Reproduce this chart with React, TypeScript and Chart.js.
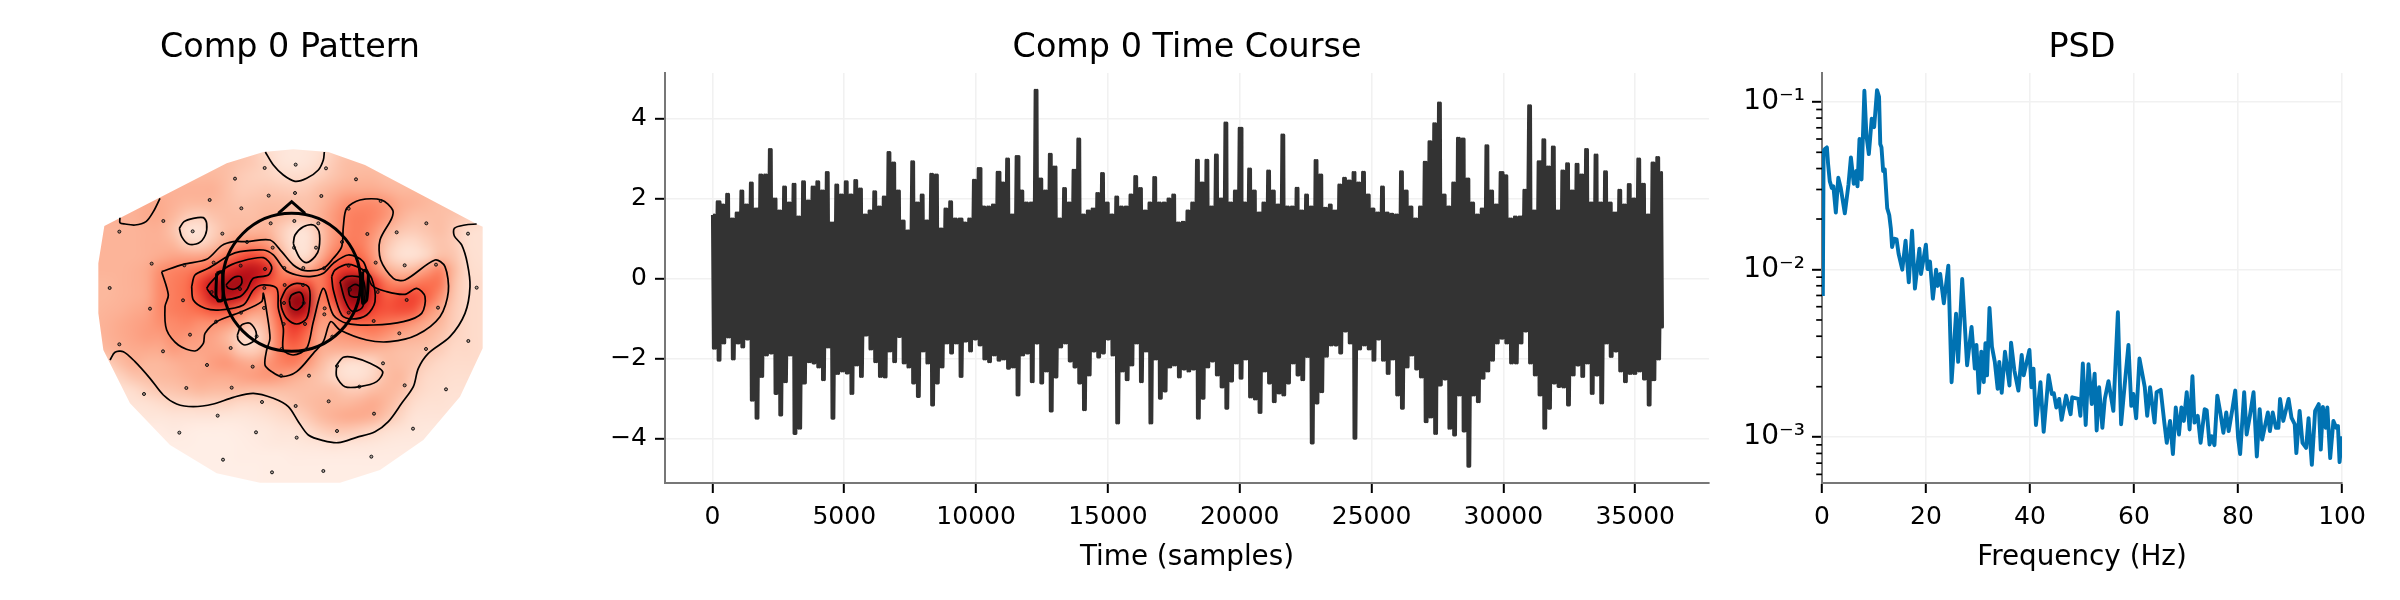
import React, { useEffect, useRef } from "react";
import { Chart, registerables } from "chart.js";

Chart.register(...registerables);

// ---- topomap data (map units) ----
const heatX = [100, 140, 180, 220, 260, 300, 340, 380, 420, 460, 500, 540, 580, 620, 660, 700, 740, 780, 820, 860, 900, 940, 980, 1020, 1060, 1100, 1140, 1180, 1220, 1260];
const heatY = [90, 130, 170, 210, 250, 290, 330, 370, 410, 450, 490, 530, 570, 610, 650, 690, 730, 770, 810, 850, 890, 930, 970, 1010, 1050, 1090];
const heatValues = [
  [22, 22, 22, 22, 22, 22, 22, 22, 22, 22, 22, 22, 20, 14, 10, 8, 9, 12, 18, 22, 22, 22, 22, 22, 22, 22, 22, 22, 22, 22],
  [24, 24, 24, 24, 24, 24, 24, 24, 24, 24, 24, 22, 20, 16, 11, 9, 10, 14, 20, 24, 24, 24, 24, 24, 24, 24, 24, 24, 24, 24],
  [26, 26, 26, 26, 26, 26, 26, 26, 26, 26, 24, 20, 18, 17, 15, 14, 15, 18, 22, 25, 26, 26, 24, 24, 24, 24, 24, 24, 24, 24],
  [28, 28, 28, 28, 28, 28, 28, 28, 28, 28, 24, 20, 20, 21, 20, 19, 20, 24, 27, 30, 30, 30, 28, 26, 26, 26, 26, 24, 24, 24],
  [28, 28, 28, 28, 30, 30, 28, 26, 26, 26, 24, 22, 23, 24, 24, 23, 23, 26, 32, 38, 40, 40, 36, 30, 28, 26, 24, 24, 22, 22],
  [28, 28, 28, 28, 30, 30, 26, 20, 18, 22, 24, 24, 24, 26, 25, 22, 22, 28, 35, 42, 44, 42, 36, 28, 24, 24, 24, 22, 20, 18],
  [27, 27, 27, 27, 28, 28, 22, 12, 11, 18, 24, 26, 26, 27, 20, 13, 12, 22, 34, 42, 44, 38, 28, 22, 20, 22, 24, 20, 14, 12],
  [27, 27, 27, 27, 28, 28, 26, 18, 16, 22, 30, 36, 38, 35, 22, 12, 11, 22, 36, 44, 44, 34, 22, 15, 14, 18, 22, 20, 13, 12],
  [27, 27, 27, 27, 28, 30, 32, 32, 32, 36, 46, 56, 60, 52, 32, 16, 14, 28, 44, 52, 50, 36, 20, 13, 12, 16, 24, 22, 14, 12],
  [27, 27, 27, 28, 30, 38, 42, 44, 48, 56, 68, 76, 80, 70, 44, 32, 30, 42, 58, 66, 62, 44, 30, 24, 26, 34, 42, 26, 15, 13],
  [26, 26, 27, 28, 30, 40, 44, 48, 62, 78, 86, 88, 76, 58, 50, 56, 58, 44, 62, 92, 96, 66, 46, 40, 44, 48, 46, 24, 15, 14],
  [26, 26, 27, 28, 30, 40, 44, 48, 58, 76, 82, 74, 58, 40, 58, 90, 84, 44, 60, 88, 92, 68, 54, 58, 60, 52, 38, 22, 15, 14],
  [26, 27, 28, 30, 32, 40, 44, 46, 50, 56, 56, 46, 36, 34, 56, 88, 78, 40, 44, 72, 74, 60, 56, 58, 56, 40, 30, 20, 15, 14],
  [27, 28, 30, 32, 34, 38, 40, 42, 38, 38, 36, 30, 22, 28, 50, 66, 58, 34, 36, 48, 50, 50, 46, 42, 36, 30, 26, 19, 15, 14],
  [26, 28, 30, 32, 34, 34, 38, 36, 34, 32, 26, 16, 13, 24, 46, 58, 48, 30, 34, 36, 38, 40, 36, 30, 28, 26, 22, 17, 15, 14],
  [22, 26, 28, 30, 30, 30, 34, 32, 32, 32, 30, 20, 18, 26, 44, 50, 44, 30, 28, 28, 28, 27, 26, 24, 23, 22, 19, 15, 15, 14],
  [14, 18, 24, 28, 26, 26, 28, 30, 30, 34, 36, 32, 30, 36, 42, 44, 36, 26, 18, 13, 13, 16, 24, 24, 22, 18, 15, 14, 14, 14],
  [12, 13, 17, 22, 24, 25, 26, 28, 30, 30, 30, 32, 34, 36, 34, 30, 26, 22, 16, 12, 12, 16, 24, 26, 20, 15, 14, 13, 13, 13],
  [10, 11, 12, 14, 18, 21, 22, 24, 26, 25, 25, 25, 24, 24, 24, 24, 24, 24, 24, 20, 20, 24, 26, 24, 17, 14, 13, 12, 12, 12],
  [8, 9, 10, 11, 12, 14, 16, 16, 17, 17, 17, 15, 15, 16, 18, 21, 24, 26, 26, 26, 28, 30, 26, 20, 14, 12, 12, 11, 11, 11],
  [6, 7, 8, 8, 9, 9, 10, 10, 10, 10, 9, 9, 10, 12, 14, 16, 20, 25, 28, 30, 30, 28, 22, 16, 11, 10, 10, 10, 10, 10],
  [5, 5, 5, 6, 6, 6, 7, 6, 5, 5, 5, 6, 7, 8, 10, 11, 14, 18, 21, 21, 19, 16, 13, 11, 9, 8, 8, 8, 8, 8],
  [4, 4, 4, 5, 5, 5, 5, 5, 4, 4, 4, 5, 6, 7, 8, 8, 9, 10, 12, 11, 10, 9, 8, 7, 7, 7, 7, 7, 7, 7],
  [4, 4, 4, 4, 4, 4, 4, 4, 4, 4, 4, 5, 5, 5, 5, 6, 6, 6, 6, 6, 6, 6, 6, 6, 6, 6, 6, 6, 6, 6],
  [4, 4, 4, 4, 4, 4, 4, 4, 4, 4, 4, 4, 4, 5, 5, 5, 5, 5, 5, 5, 5, 5, 5, 5, 5, 5, 5, 5, 5, 5],
  [4, 4, 4, 4, 4, 4, 4, 4, 4, 4, 4, 4, 4, 5, 5, 5, 5, 5, 5, 5, 5, 5, 5, 5, 5, 5, 5, 5, 5, 5],
];
// clipping hull of the interpolated field
const outline = [[610, 96], [700, 88], [805, 96], [915, 135], [1250, 312], [1268, 320], [1268, 685], [1200, 830], [1090, 960], [960, 1050], [840, 1088], [600, 1088], [470, 1060], [330, 975], [210, 850], [130, 690], [115, 580], [115, 430], [133, 318], [500, 130], [610, 96]];

const sensors = [[707, 134], [614, 144], [798, 145], [525, 176], [888, 178], [705, 219], [626, 227], [784, 228], [449, 240], [962, 243], [544, 265], [866, 266], [310, 303], [398, 334], [632, 310], [703, 303], [775, 310], [178, 335], [487, 341], [1099, 310], [922, 342], [1010, 337], [1224, 341], [846, 366], [561, 366], [702, 383], [768, 383], [638, 383], [275, 431], [373, 436], [461, 428], [542, 437], [615, 447], [673, 444], [730, 444], [792, 445], [866, 437], [947, 428], [1034, 436], [1128, 434], [149, 504], [455, 516], [540, 507], [613, 504], [674, 495], [729, 495], [870, 509], [953, 516], [1250, 503], [369, 541], [672, 549], [731, 549], [1040, 540], [270, 566], [612, 564], [794, 565], [793, 583], [543, 578], [866, 578], [1134, 563], [468, 605], [671, 612], [735, 612], [941, 603], [390, 644], [590, 649], [1018, 640], [817, 650], [178, 673], [512, 684], [1225, 663], [309, 694], [665, 687], [740, 687], [1098, 687], [441, 735], [578, 740], [831, 738], [969, 730], [663, 767], [747, 767], [379, 804], [515, 803], [898, 800], [1034, 796], [1158, 808], [252, 822], [606, 846], [707, 858], [806, 844], [473, 887], [942, 881], [358, 938], [588, 937], [710, 953], [831, 933], [1059, 926], [489, 1019], [934, 1010], [636, 1057], [790, 1053]];

const contourLines = [
  [[616, 96], [640, 135], [670, 165], [705, 184], [740, 175], [775, 150], [790, 120], [793, 96]],
  [[300, 235], [280, 275], [258, 305], [225, 315], [195, 312], [180, 308], [180, 293]],
  [[358, 325], [372, 305], [400, 295], [430, 293], [440, 310], [436, 345], [415, 370], [385, 372], [365, 350], [358, 325]],
  [[150, 720], [165, 697], [190, 695], [225, 725], [270, 775], [310, 825], [350, 852], [400, 860], [460, 852], [520, 832], [580, 820], [640, 835], [685, 860], [715, 905], [745, 945], [790, 962], [835, 968], [890, 952], [945, 935], [985, 905], [1025, 850], [1060, 800], [1075, 745], [1105, 700], [1170, 650], [1215, 580], [1230, 500], [1222, 430], [1205, 375], [1183, 348], [1183, 325], [1215, 315], [1250, 312]],
  [[700, 370], [705, 345], [730, 320], [760, 315], [777, 335], [777, 385], [765, 410], [740, 428], [720, 415], [705, 385], [700, 370]],
  [[305, 455], [370, 433], [440, 418], [485, 377], [520, 365], [560, 365], [630, 360], [665, 395], [700, 435], [735, 452], [790, 445], [820, 415], [845, 380], [850, 320], [860, 265], [900, 240], [965, 240], [998, 270], [995, 295], [960, 360], [962, 420], [1000, 475], [1035, 480], [1125, 420], [1155, 440], [1165, 515], [1140, 590], [1070, 645], [990, 665], [920, 660], [840, 630], [812, 605], [790, 665], [760, 700], [710, 755], [665, 770], [635, 755], [615, 735], [620, 690], [630, 655], [620, 575], [610, 520], [605, 545], [540, 577], [470, 605], [435, 640], [430, 670], [405, 693], [355, 675], [320, 630], [315, 560], [325, 525], [305, 455]],
  [[395, 500], [405, 465], [445, 445], [510, 405], [540, 395], [610, 390], [640, 405], [675, 450], [710, 465], [750, 470], [790, 460], [820, 430], [865, 405], [910, 425], [935, 495], [980, 515], [1035, 523], [1070, 505], [1095, 530], [1085, 580], [1030, 605], [940, 615], [860, 610], [820, 585], [790, 505], [760, 605], [740, 685], [700, 705], [670, 690], [670, 625], [655, 565], [650, 505], [605, 495], [580, 510], [550, 555], [480, 570], [435, 565], [400, 540], [395, 500]],
  [[440, 505], [450, 490], [495, 445], [540, 425], [610, 413], [635, 440], [625, 465], [580, 475], [560, 510], [540, 530], [480, 540], [455, 525], [440, 505]],
  [[498, 495], [520, 473], [542, 470], [545, 490], [525, 507], [505, 505], [498, 495]],
  [[662, 540], [680, 505], [710, 490], [745, 500], [750, 540], [740, 595], [710, 612], [680, 595], [665, 565], [662, 540]],
  [[688, 540], [695, 525], [720, 517], [730, 535], [728, 555], [710, 570], [692, 560], [688, 540]],
  [[815, 470], [825, 450], [865, 433], [910, 450], [935, 475], [945, 545], [920, 585], [875, 597], [845, 585], [820, 510], [815, 470]],
  [[840, 485], [860, 470], [895, 470], [910, 480], [915, 525], [905, 565], [875, 573], [855, 540], [840, 485]],
  [[865, 505], [885, 493], [905, 505], [895, 530], [870, 527], [865, 505]],
  [[532, 645], [545, 615], [570, 610], [588, 635], [585, 660], [555, 675], [535, 660], [532, 645]],
  [[830, 735], [850, 712], [880, 712], [930, 730], [968, 755], [950, 785], [900, 800], [855, 800], [830, 770], [830, 735]],
];
const headCentre = [695, 487];
const headNose = [[655, 280], [695, 245], [735, 280]];
const headEarLeft = [[470, 460], [482, 455], [488, 460], [488, 540], [475, 543], [468, 525], [470, 460]];
const headEarRight = [[908, 455], [918, 450], [925, 465], [920, 540], [908, 550], [908, 455]];

// ---- time course: envelope of the trace, every 180 samples ----
const timeUpper = [1.6, 1.93, 1.85, 2.12, 1.5, 1.65, 2.2, 1.85, 2.4, 1.75, 2.6, 2.6, 3.24, 2.0, 1.7, 2.3, 1.9, 2.37, 1.55, 2.43, 1.95, 2.3, 2.43, 2.2, 2.66, 1.4, 2.35, 2.1, 2.43, 2.1, 2.46, 2.25, 1.6, 1.7, 2.18, 1.8, 2.05, 3.16, 2.9, 2.2, 1.45, 1.2, 2.93, 1.9, 2.1, 1.45, 2.62, 2.6, 1.25, 1.75, 1.93, 1.5, 1.5, 1.4, 1.5, 2.47, 2.76, 1.8, 1.8, 1.85, 2.67, 2.4, 3.0, 1.6, 3.06, 2.2, 1.9, 1.9, 4.72, 2.5, 2.2, 3.12, 2.8, 1.5, 2.26, 1.9, 2.72, 3.5, 1.6, 1.7, 1.75, 2.14, 2.64, 1.9, 1.6, 2.05, 1.8, 1.8, 2.1, 2.56, 2.26, 1.7, 1.9, 2.54, 1.9, 1.9, 2.0, 2.1, 1.4, 1.42, 1.7, 1.9, 2.97, 2.4, 2.97, 1.8, 3.1, 2.0, 3.9, 1.9, 2.2, 3.77, 1.9, 2.75, 2.2, 1.65, 1.9, 2.7, 2.2, 1.85, 3.6, 1.8, 1.8, 2.27, 1.7, 2.1, 1.8, 2.96, 2.6, 1.77, 1.85, 1.7, 2.35, 2.52, 2.45, 2.66, 2.4, 2.67, 2.1, 1.75, 1.65, 2.3, 1.65, 1.62, 1.6, 2.68, 2.2, 1.8, 1.5, 1.8, 2.92, 3.43, 3.88, 4.4, 2.1, 1.8, 2.4, 3.52, 3.5, 2.5, 1.9, 1.6, 1.75, 3.33, 2.2, 1.85, 2.66, 2.58, 1.5, 1.55, 1.55, 2.22, 4.33, 1.7, 2.93, 3.48, 2.8, 3.3, 1.7, 2.7, 2.88, 2.2, 2.87, 2.6, 3.24, 1.9, 3.1, 1.9, 2.68, 1.9, 1.65, 2.22, 1.85, 2.36, 2.0, 3.0, 2.37, 1.6, 2.9, 3.04, 2.66];
const timeLower = [-1.73, -2.03, -1.6, -1.45, -2.0, -1.6, -1.7, -1.5, -3.03, -3.48, -2.44, -1.9, -1.85, -2.86, -3.4, -2.57, -1.9, -3.86, -3.73, -2.6, -2.07, -2.1, -2.2, -2.52, -1.7, -3.48, -2.36, -2.3, -2.35, -2.86, -2.15, -2.44, -1.4, -1.75, -2.07, -2.44, -2.45, -1.8, -2.07, -1.44, -2.1, -2.2, -2.6, -2.94, -1.8, -2.1, -3.15, -2.6, -2.2, -1.6, -1.85, -1.6, -2.44, -1.55, -1.8, -1.5, -1.65, -2.0, -2.07, -1.9, -2.03, -2.0, -2.23, -2.2, -2.9, -1.9, -1.85, -2.57, -1.6, -2.6, -2.3, -3.3, -2.45, -1.7, -1.6, -2.05, -2.2, -2.6, -3.27, -2.4, -1.8, -1.95, -1.85, -1.5, -1.9, -3.6, -2.3, -2.52, -2.15, -1.6, -2.57, -1.8, -3.6, -2.0, -2.98, -2.8, -2.2, -2.15, -2.45, -2.25, -2.3, -2.25, -3.48, -2.98, -2.2, -2.05, -2.4, -2.7, -3.23, -2.55, -2.1, -2.48, -2.0, -2.95, -3.0, -3.34, -2.3, -2.6, -3.07, -2.85, -2.9, -2.6, -2.1, -2.4, -2.52, -1.94, -4.1, -3.1, -2.82, -1.93, -1.65, -1.65, -1.85, -1.3, -1.6, -3.98, -1.75, -1.65, -1.75, -2.03, -1.5, -2.03, -2.36, -2.0, -2.9, -3.23, -2.2, -1.9, -2.25, -2.45, -3.57, -3.45, -3.86, -2.65, -2.5, -3.73, -3.9, -2.9, -3.8, -4.68, -2.9, -3.07, -2.48, -2.3, -2.03, -1.6, -1.48, -1.6, -2.1, -2.1, -1.6, -1.3, -2.1, -2.4, -2.9, -3.73, -3.23, -2.6, -2.69, -2.7, -3.15, -2.4, -2.15, -2.44, -2.1, -2.86, -2.4, -3.1, -1.6, -1.94, -1.8, -2.3, -2.57, -2.36, -2.36, -2.3, -2.5, -3.15, -2.52, -2.0, -1.2];
const timeXTicks = [0, 5000, 10000, 15000, 20000, 25000, 30000, 35000];
const timeYTicks = [-4, -2, 0, 2, 4];

const psdFreq = [0.16, 0.31, 0.55, 0.94, 1.18, 1.49, 1.88, 2.19, 2.66, 3.13, 3.61, 4.39, 5.09, 5.56, 6.11, 6.58, 6.82, 7.21, 7.6, 8.15, 8.54, 9.01, 9.56, 10.03, 10.58, 10.97, 11.21, 11.44, 11.76, 12.07, 12.54, 12.93, 13.24, 13.48, 13.87, 14.34, 14.73, 15.44, 16.07, 16.69, 17.32, 17.87, 18.73, 19.04, 19.98, 20.3, 20.77, 21.32, 21.94, 22.26, 22.73, 23.43, 24.29, 24.92, 25.78, 26.18, 26.96, 27.9, 28.76, 29.39, 29.7, 30.17, 30.64, 31.11, 31.43, 31.74, 32.21, 32.68, 33.23, 33.78, 34.09, 34.56, 35.19, 36.05, 36.36, 36.99, 37.77, 38.4, 38.79, 39.89, 40.28, 40.67, 41.14, 42.01, 42.63, 43.57, 44.2, 44.59, 45.06, 45.61, 46.08, 46.94, 47.81, 48.12, 49.29, 49.69, 50.16, 50.71, 51.25, 51.88, 52.43, 52.82, 53.29, 53.92, 54.39, 55.09, 56.03, 56.9, 57.52, 57.99, 58.93, 59.48, 59.87, 60.42, 61.05, 62.07, 62.54, 63.09, 63.95, 64.34, 65.13, 65.83, 66.3, 66.93, 67.48, 68.03, 68.65, 69.12, 69.59, 70.14, 70.69, 71.24, 71.63, 72.26, 72.81, 73.59, 73.98, 74.53, 74.92, 75.47, 76.02, 76.65, 77.19, 77.74, 78.21, 78.92, 79.47, 80.02, 80.41, 81.19, 81.66, 82.29, 82.99, 83.62, 84.17, 84.64, 85.74, 86.13, 86.68, 87.3, 87.77, 88.09, 88.71, 89.73, 90.28, 90.91, 91.22, 91.85, 92.4, 93.1, 93.57, 94.2, 94.83, 95.53, 95.92, 96.32, 96.87, 97.18, 97.73, 98.35, 98.9, 99.22, 99.53, 100];
const psdLog10 = [-2.158, -1.292, -1.282, -1.272, -1.373, -1.473, -1.514, -1.504, -1.661, -1.453, -1.514, -1.665, -1.493, -1.332, -1.489, -1.413, -1.504, -1.222, -1.463, -0.934, -1.201, -1.312, -1.101, -1.151, -0.93, -0.97, -1.252, -1.272, -1.413, -1.403, -1.634, -1.675, -1.755, -1.866, -1.816, -1.82, -1.906, -2.001, -1.828, -2.077, -1.769, -2.114, -1.876, -2.027, -1.852, -1.997, -1.953, -2.174, -2.001, -2.098, -2.027, -2.202, -1.977, -2.672, -2.263, -2.551, -2.057, -2.571, -2.343, -2.591, -2.45, -2.736, -2.49, -2.672, -2.44, -2.631, -2.229, -2.46, -2.551, -2.712, -2.551, -2.736, -2.49, -2.692, -2.436, -2.601, -2.722, -2.51, -2.631, -2.48, -2.702, -2.591, -2.927, -2.672, -2.968, -2.631, -2.742, -2.738, -2.823, -2.772, -2.897, -2.752, -2.863, -2.762, -2.772, -2.873, -2.561, -2.927, -2.565, -2.803, -2.621, -2.96, -2.702, -2.944, -2.772, -2.666, -2.843, -2.255, -2.923, -2.762, -2.45, -2.813, -2.742, -2.887, -2.531, -2.702, -2.873, -2.702, -2.913, -2.732, -2.718, -2.913, -3.034, -2.903, -3.101, -2.823, -2.984, -2.823, -2.903, -2.732, -2.954, -2.637, -2.913, -2.873, -3.034, -2.833, -2.839, -3.044, -2.994, -3.048, -2.752, -2.863, -2.974, -2.853, -2.964, -2.833, -2.722, -3.004, -3.101, -2.732, -2.984, -2.873, -2.732, -3.115, -2.833, -3.014, -2.853, -2.964, -2.853, -2.944, -2.944, -2.772, -2.903, -2.772, -2.883, -2.923, -3.095, -2.843, -3.034, -3.064, -2.887, -3.165, -2.843, -2.803, -3.074, -2.819, -2.944, -2.823, -3.125, -2.903, -2.944, -2.933, -3.149, -2.994];
const psdXTicks = [0, 20, 40, 60, 80, 100];
const psdYTicks = [0.001, 0.01, 0.1];
const psdYTickLabels = ["10\u207B\u00B3", "10\u207B\u00B2", "10\u207B\u00B9"];
const psdMinorTicks = [0.0006, 0.0007, 0.0008, 0.0009, 0.002, 0.003, 0.004, 0.005, 0.006, 0.007, 0.008, 0.009, 0.02, 0.03, 0.04, 0.05, 0.06, 0.07, 0.08, 0.09];

const FONT = "DejaVu Sans";
const titleOptions = (text: string) => ({
  display: true,
  text,
  color: "#000",
  fullSize: false,
  font: { family: FONT, size: 33.4, weight: "normal" as const, lineHeight: 1.2 },
  padding: { top: 28, bottom: 4.9 },
});

// matplotlib "Reds" colormap stops
const reds = [[255, 245, 240], [254, 224, 210], [252, 187, 161], [252, 146, 114], [251, 106, 74], [239, 59, 44], [203, 24, 29], [165, 15, 21], [103, 0, 13]];
const redAt = (v: number) => {
  const p = Math.min(Math.max(v, 0), 0.9999) * (reds.length - 1);
  const i = Math.floor(p);
  const t = p - i;
  return reds[i].map((c, k) => Math.round(c + (reds[i + 1][k] - c) * t));
};

// draws heatValues as a smoothed image, placed through the chart's own scales
const heatPlugin = {
  id: "heat",
  beforeDatasetsDraw(chart: any) {
    const { ctx, scales } = chart;
    const off = document.createElement("canvas");
    off.width = heatX.length;
    off.height = heatY.length;
    const octx = off.getContext("2d")!;
    const img = octx.createImageData(off.width, off.height);
    heatValues.forEach((row, r) =>
      row.forEach((v, c) => {
        const [cr, cg, cb] = redAt(v / 100);
        const o = (r * off.width + c) * 4;
        img.data[o] = cr;
        img.data[o + 1] = cg;
        img.data[o + 2] = cb;
        img.data[o + 3] = 255;
      })
    );
    octx.putImageData(img, 0, 0);
    const cellW = heatX[1] - heatX[0];
    const cellH = heatY[1] - heatY[0];
    const x0 = scales.x.getPixelForValue(heatX[0] - cellW / 2);
    const x1 = scales.x.getPixelForValue(heatX[heatX.length - 1] + cellW / 2);
    const y0 = scales.y.getPixelForValue(heatY[0] - cellH / 2);
    const y1 = scales.y.getPixelForValue(heatY[heatY.length - 1] + cellH / 2);
    ctx.save();
    ctx.beginPath();
    outline.forEach(([x, y], i) => {
      const px = scales.x.getPixelForValue(x);
      const py = scales.y.getPixelForValue(y);
      if (i === 0) ctx.moveTo(px, py);
      else ctx.lineTo(px, py);
    });
    ctx.closePath();
    ctx.clip();
    ctx.imageSmoothingEnabled = true;
    ctx.imageSmoothingQuality = "high";
    ctx.drawImage(off, x0, y0, x1 - x0, y1 - y0);
    ctx.restore();
  },
};

// shorter unlabelled ticks of the log axis
const minorTickPlugin = {
  id: "minorTicks",
  afterDraw(chart: any) {
    const { ctx, scales } = chart;
    const left = scales.y.right;
    ctx.save();
    ctx.strokeStyle = "#000";
    ctx.lineWidth = 1.7;
    psdMinorTicks.forEach((v) => {
      const y = scales.y.getPixelForValue(v);
      ctx.beginPath();
      ctx.moveTo(left - 5.8, y);
      ctx.lineTo(left, y);
      ctx.stroke();
    });
    ctx.restore();
  },
};

const axisBase = (axisSize: number, values: number[]) => ({
  border: { color: "#777", width: 2 },
  grid: { color: "#f1f1f1", lineWidth: 1.6, tickColor: "#000", tickLength: 10, tickWidth: 2 },
  afterBuildTicks: (s: any) => {
    s.ticks = values.map((value) => ({ value }));
  },
  afterFit: (s: any) => {
    if (s.isHorizontal()) s.height = axisSize;
    else s.width = axisSize;
  },
});
const tickStyle = { color: "#000", font: { family: FONT, size: 25 }, autoSkip: false, maxRotation: 0 };
const plainTick = (v: number) => String(v).replace("-", "\u2212");

function TopoMap() {
  const ref = useRef<HTMLCanvasElement>(null);
  useEffect(() => {
    const line = (pts: number[][], width: number) => ({
      data: pts.map(([x, y]) => ({ x, y })),
      showLine: true,
      borderColor: "#000",
      borderWidth: width,
      pointRadius: 0,
      fill: false,
    });
    const chart = new Chart(ref.current!, {
      type: "scatter",
      data: {
        datasets: [
          { data: sensors.map(([x, y]) => ({ x, y })), pointRadius: 1.5, pointBorderWidth: 1, pointBackgroundColor: "rgba(0,0,0,0.3)", pointBorderColor: "#111" },
          { data: [{ x: headCentre[0], y: headCentre[1] }], pointRadius: 69, pointBorderWidth: 3, pointBackgroundColor: "rgba(0,0,0,0)", pointBorderColor: "#000" },
          { ...line(headNose, 3), tension: 0 },
          { ...line(headEarLeft, 3), tension: 0.2 },
          { ...line(headEarRight, 3), tension: 0.2 },
          ...contourLines.map((c) => ({ ...line(c, 1.7), tension: 0.3 })),
        ],
      },
      options: {
        animation: false,
        responsive: false,
        layout: { autoPadding: false, padding: { bottom: 117 } },
        plugins: { legend: { display: false }, tooltip: { enabled: false }, title: titleOptions("Comp 0 Pattern") },
        scales: {
          x: { type: "linear", display: false, min: 0, max: 1380 },
          y: { type: "linear", display: false, reverse: true, min: -141, max: 1089 },
        },
      },
      plugins: [heatPlugin],
    } as any);
    return () => chart.destroy();
  }, []);
  return <canvas ref={ref} width={460} height={600} style={{ position: "absolute", left: 60, top: 0 }} />;
}

function TimeCourse() {
  const ref = useRef<HTMLCanvasElement>(null);
  useEffect(() => {
    // each bin is stroked twice so the body of the trace closes up as in the reference
    const points = timeUpper.flatMap((hi, i) => {
      const x = i * 180;
      return [
        { x, y: hi },
        { x: x + 35, y: timeLower[i] },
        { x: Math.min(x + 70, 36000), y: hi },
        { x: Math.min(x + 105, 36000), y: timeLower[i] },
      ];
    });
    const chart = new Chart(ref.current!, {
      type: "line",
      data: {
        datasets: [
          { data: points, borderColor: "#333", borderWidth: 3, borderJoinStyle: "round", pointRadius: 0, tension: 0, fill: false },
        ],
      },
      options: {
        animation: false,
        responsive: false,
        layout: { padding: { left: 0, right: 51 } },
        plugins: { legend: { display: false }, tooltip: { enabled: false }, title: titleOptions("Comp 0 Time Course") },
        scales: {
          x: {
            type: "linear",
            min: -1800,
            max: 37800,
            ...axisBase(117, timeXTicks),
            ticks: { ...tickStyle, padding: 9, callback: plainTick },
            title: { display: true, text: "Time (samples)", color: "#000", font: { family: FONT, size: 27.8 }, padding: { top: 0, bottom: 26 } },
          },
          y: {
            type: "linear",
            min: -5.1,
            max: 5.15,
            ...axisBase(65, timeYTicks),
            ticks: { ...tickStyle, padding: 8, callback: plainTick },
          },
        },
      },
    } as any);
    return () => chart.destroy();
  }, []);
  return <canvas ref={ref} width={1160} height={600} style={{ position: "absolute", left: 600, top: 0 }} />;
}

function Psd() {
  const ref = useRef<HTMLCanvasElement>(null);
  useEffect(() => {
    const points = psdFreq.map((x, i) => ({ x, y: Math.pow(10, psdLog10[i]) }));
    const chart = new Chart(ref.current!, {
      type: "line",
      data: {
        datasets: [
          { data: points, borderColor: "#0072B2", borderWidth: 3.9, borderJoinStyle: "round", pointRadius: 0, tension: 0, fill: false },
        ],
      },
      options: {
        animation: false,
        responsive: false,
        layout: { padding: { right: 58 } },
        plugins: { legend: { display: false }, tooltip: { enabled: false }, title: titleOptions("PSD") },
        scales: {
          x: {
            type: "linear",
            min: 0,
            max: 100,
            ...axisBase(117, psdXTicks),
            ticks: { ...tickStyle, padding: 9, callback: plainTick },
            title: { display: true, text: "Frequency (Hz)", color: "#000", font: { family: FONT, size: 27.8 }, padding: { top: 0, bottom: 26 } },
          },
          y: {
            type: "logarithmic",
            min: 0.000533,
            max: 0.1486,
            ...axisBase(102, psdYTicks),
            ticks: {
              ...tickStyle,
              font: { family: FONT, size: 28 },
              padding: 7,
              callback: (v: number) => psdYTickLabels[psdYTicks.indexOf(v)],
            },
          },
        },
      },
      plugins: [minorTickPlugin],
    } as any);
    return () => chart.destroy();
  }, []);
  return <canvas ref={ref} width={680} height={600} style={{ position: "absolute", left: 1720, top: 0 }} />;
}

export default function App() {
  useEffect(() => {
    document.body.style.margin = "0";
  }, []);
  return (
    <div style={{ position: "relative", width: 2400, height: 600, background: "#fff" }}>
      <TopoMap />
      <TimeCourse />
      <Psd />
    </div>
  );
}
